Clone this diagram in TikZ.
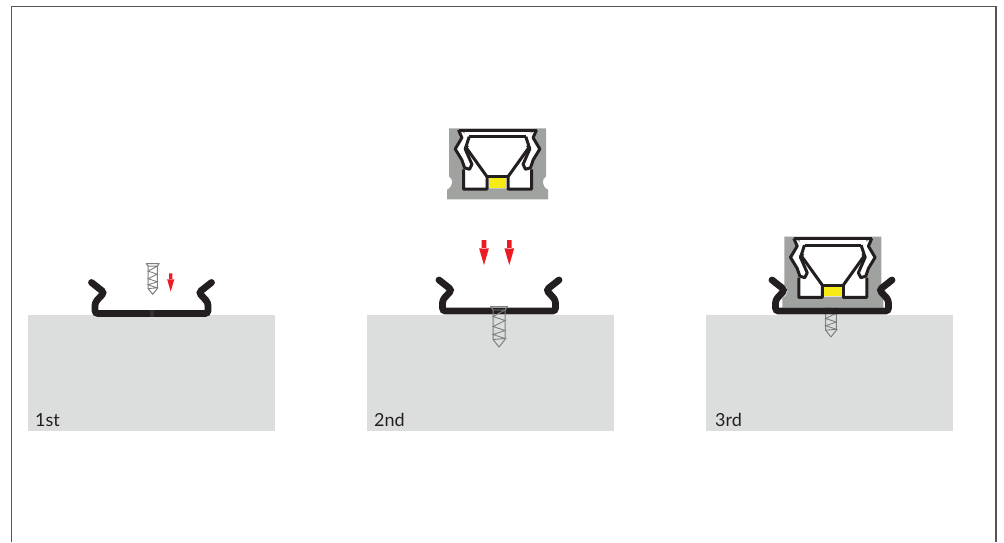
\documentclass[tikz,border=0pt]{standalone}
\usepackage{fontspec}
\setmainfont{Lato}
\definecolor{blockgray}{RGB}{220,222,221}
\definecolor{covergray}{RGB}{160,162,160}
\definecolor{ledyellow}{RGB}{246,235,22}
\definecolor{chanblack}{RGB}{35,31,32}
\definecolor{arrowred}{RGB}{237,28,36}
\definecolor{framegray}{RGB}{85,85,85}
\definecolor{screwgray}{RGB}{125,127,127}
\tikzset{
  x=1pt,y=-1pt,
  block/.style={fill=blockgray,draw=none},
  steplabel/.style={font=\fontsize{18}{20}\selectfont,text=chanblack,anchor=base west,inner sep=0pt},
  coverline/.style={chanblack,line width=3pt,line join=round},
  pics/channel/.style={code={
    \draw[chanblack,line width=6.8pt,line cap=round,rounded corners=3pt]
      (-60,-31)--(-47.3,-21)--(-56.5,-11)--(-56.5,0)--(56.5,0)--(56.5,-11)--(47.3,-21)--(60,-31);
  }},
  pics/screw/.style={code={
    \draw[screwgray,line width=1pt,line join=round]
      (-8.5,0)--(8.5,0)--(6,3.5)--(6,33)--(0,40.5)--(-6,33)--(-6,3.5)--cycle;
    \draw[screwgray,line width=.9pt]
      (-6,3.5)--(6,3.5)--(-6,10)--(6,14)--(-6,20)--(6,24)--(-6,28)--(6,32)--(-6,33);
  }},
  pics/cover/.style={code={
    \fill[covergray] (-48.5,0)--(48.5,0)--(48.5,48)
       .. controls (44,51) and (44,58) .. (50.5,61.5)--(50.5,71)--(-50.5,71)--(-50.5,61.5)
       .. controls (-44,58) and (-44,51) .. (-48.5,48)--cycle;
    \fill[white] (-33,2)--(33,2)--(33,40)--(33.5,60)--(-33.5,60)--(-33,40)--cycle;
    \foreach \s in {1,-1}{
      \begin{scope}[xscale=\s]
      \fill[white] (39,1.7)--(35.6,9.4)--(42.3,20.7)--(35.6,31.7)--(33,39.4)--(27,40.7)--(20,30)--(28.3,8.4)--cycle;
      \draw[coverline] (39,1.7)--(35.6,9.4)--(42.3,20.7)--(35.6,31.7)--(33,39.4)--(28,41)--(25.6,36)--(32.3,20.7)--(28.3,8.4);
      \draw[coverline] (32.3,20.7)--(30,17);
      \draw[coverline] (32.3,18)--(10.5,48.4)--(10.5,60.7)--(34,60.7)--(34,41);
      \end{scope}
    }
    \draw[coverline] (-39,1.7)--(39,1.7) (-28.3,8.4)--(28.3,8.4) (-10.5,48.4)--(10.5,48.4);
    \fill[ledyellow] (-8.9,49.9) rectangle (8.9,59.2);
  }},
  pics/downarrow/.style={code={
    \fill[arrowred] (-2.3,0) rectangle (2.3,9) (-4.9,8.3)--(4.9,8.3)--(0,25)--cycle;
  }}
}
\begin{document}
\begin{tikzpicture}
\useasboundingbox (0,0) rectangle (1004,542);
\draw[framegray,line width=1.2pt] (11.5,542)--(11.5,6.8)--(996,6.8)--(996,542);
\fill[block] (28,315) rectangle (275,431);
\fill[block] (367,315) rectangle (614,431);
\fill[block] (706,315) rectangle (953,431);
\node[steplabel] (s1) at (35,426.5) {1st};
\node[steplabel] (s2) at (374,426.5) {2nd};
\node[steplabel] (s3) at (715,426.5) {3rd};
% step 1
\pic at (151.5,313.5) {channel};
\fill[chanblack!92!white] (149.5,310.2) rectangle (153.5,316.8);
\pic[scale=.76] at (152.7,263.5) {screw};
\pic[scale=.73] at (170.7,273.3) {downarrow};
% step 2
\pic at (499,311) {channel};
\pic at (499,306.5) {screw};
\pic at (484,240) {downarrow};
\pic at (509.3,240) {downarrow};
\pic at (497.5,128.3) {cover};
% step 3
\pic[scale=.9] at (831,300.5) {screw};
\pic at (832.8,236.7) {cover};
\pic at (832,311) {channel};
\end{tikzpicture}
\end{document}
